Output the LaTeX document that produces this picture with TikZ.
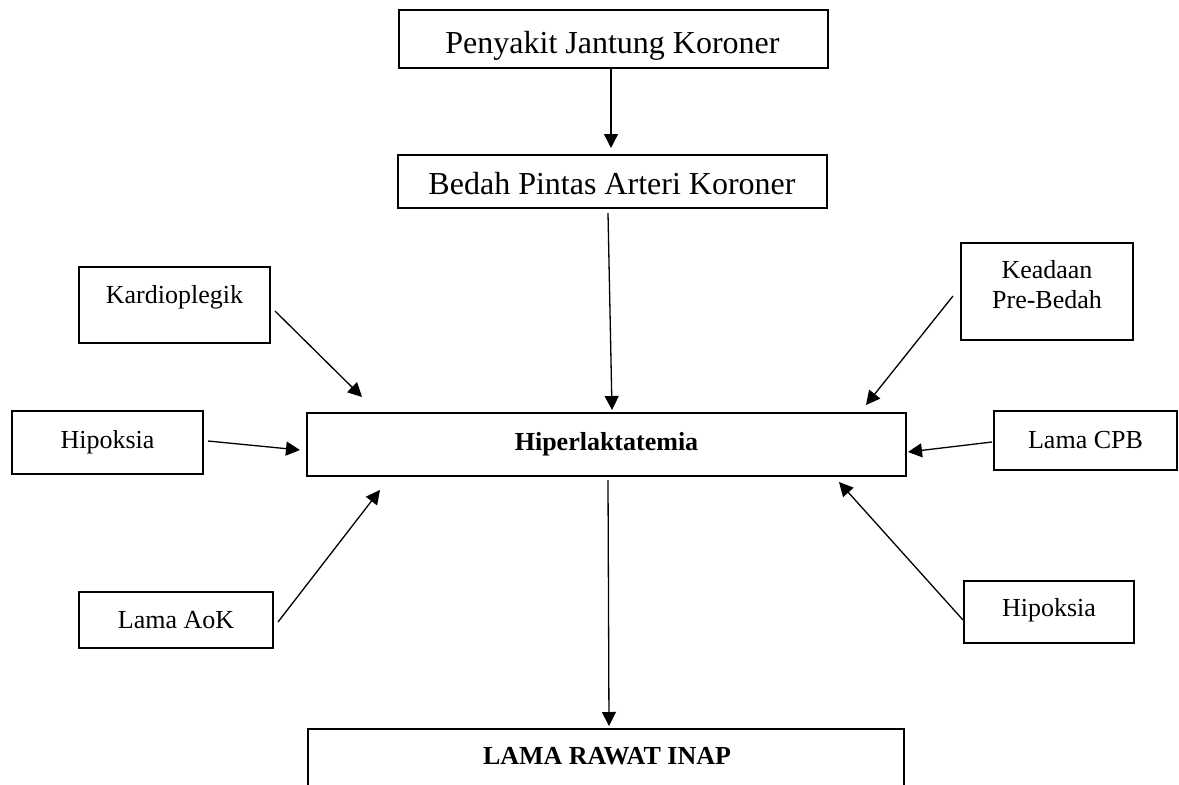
\documentclass[tikz,border=0pt]{standalone}
\usepackage{fontspec}
\setmainfont{Liberation Serif}
\usetikzlibrary{arrows.meta}
\tikzset{
  box/.style={draw, line width=2.8pt, inner sep=0pt, anchor=center},
  big/.style={font=\fontsize{32}{38}\selectfont},
  small/.style={font=\fontsize{26}{30}\selectfont, align=center},
  boldtxt/.style={font=\fontsize{26}{30}\selectfont\bfseries},
  arr/.style={line width=1.3pt, -{Triangle[length=14pt,width=14pt]}}
}
\begin{document}
\begin{tikzpicture}[x=1pt,y=-1pt]
\clip (0,0) rectangle (1179,785);
\fill[white] (0,0) rectangle (1179,785);
% boxes
\node[box, minimum width=429, minimum height=58] (pjk) at (613.5,39) {};
\node[big] (pjkt) at (612.5,45.5) {Penyakit Jantung Koroner};
\node[box, minimum width=429, minimum height=53] (bpak) at (612.5,181.5) {};
\node[big] (bpakt) at (612,184) {Bedah Pintas Arteri Koroner};
\node[box, boldtxt, minimum width=599, minimum height=63] (hip) at (606.5,444.5) {Hiperlaktatemia};
\node[box, minimum width=191, minimum height=76] (kard) at (174.5,305) {};
\node[small] (kardt) at (174.5,297) {Kardioplegik};
\node[box, small, minimum width=191, minimum height=63] (hipl) at (107.5,442.5) {Hipoksia};
\node[box, small, minimum width=194, minimum height=56] (aok) at (176,620) {Lama AoK};
\node[box, minimum width=172, minimum height=97] (kpb) at (1047,291.5) {};
\node[small] (kpbt) at (1047,285) {Keadaan\\Pre-Bedah};
\node[box, small, minimum width=183, minimum height=59] (cpb) at (1085.5,440.5) {Lama CPB};
\node[box, minimum width=170, minimum height=62] (hipr) at (1049,612) {};
\node[small] (hiprt) at (1049,610) {Hipoksia};
\node[box, minimum width=596, minimum height=110] (lama) at (606,784) {};
\node[boldtxt] (lamat) at (607,756) {LAMA RAWAT INAP};
% connector end points
\coordinate (a1s) at (611,68);   \coordinate (a1e) at (611,148);
\coordinate (a2s) at (608,213);  \coordinate (a2e) at (612,410);
\coordinate (a3s) at (275,311);  \coordinate (a3e) at (362,397);
\coordinate (a4s) at (208,441);  \coordinate (a4e) at (300,450);
\coordinate (a5s) at (278,622);  \coordinate (a5e) at (380,490);
\coordinate (a6s) at (953,296);  \coordinate (a6e) at (866,405);
\coordinate (a7s) at (992,442);  \coordinate (a7e) at (908,452);
\coordinate (a8s) at (963,620);  \coordinate (a8e) at (839,482);
\coordinate (a9s) at (608,480);  \coordinate (a9e) at (609,726);
\draw[arr] (a1s) -- (a1e);
\draw[arr] (a2s) -- (a2e);
\draw[arr] (a3s) -- (a3e);
\draw[arr] (a4s) -- (a4e);
\draw[arr] (a5s) -- (a5e);
\draw[arr] (a6s) -- (a6e);
\draw[arr] (a7s) -- (a7e);
\draw[arr] (a8s) -- (a8e);
\draw[arr] (a9s) -- (a9e);
\end{tikzpicture}
\end{document}
